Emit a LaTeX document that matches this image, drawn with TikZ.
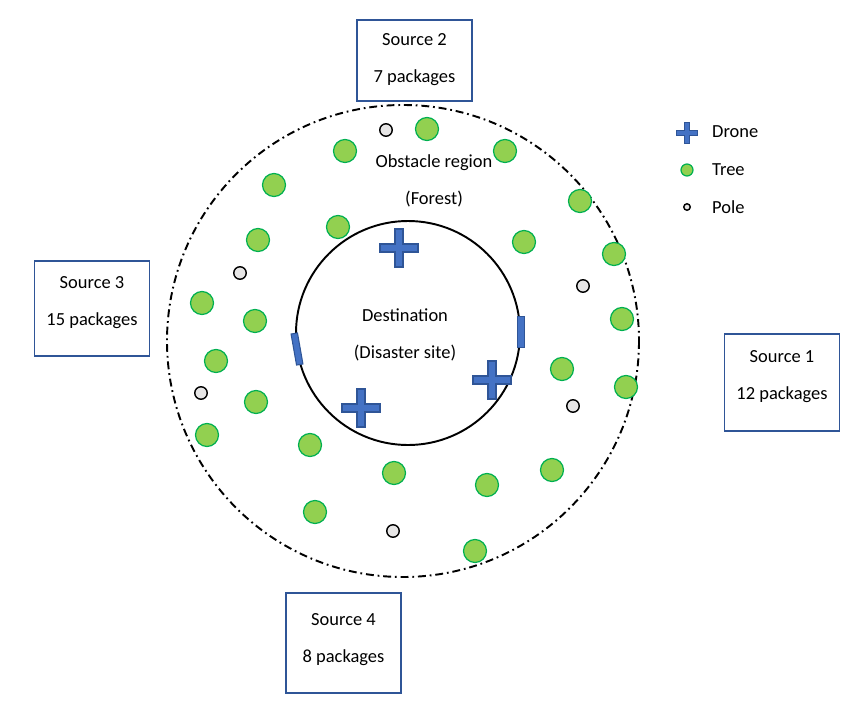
\documentclass[tikz,border=0pt]{standalone}
\usepackage{fontspec}
\setmainfont{Carlito}
\usetikzlibrary{positioning}

\definecolor{treefill}{HTML}{92D050}
\definecolor{treeedge}{HTML}{00B050}
\definecolor{polefill}{HTML}{E7E6E6}
\definecolor{dronefill}{HTML}{4472C4}
\definecolor{droneedge}{HTML}{2F5597}

\tikzset{
    pics/drone/.style={
        code={
            \draw[dronebody] (-4,-19) -- (4,-19) -- (4,-4) -- (19,-4) -- (19,4) -- (4,4)
                -- (4,19) -- (-4,19) -- (-4,4) -- (-19,4) -- (-19,-4) -- (-4,-4) -- cycle;
        }
    }
}

\begin{document}
\begin{tikzpicture}[
        x=0.02cm, y=-0.02cm,
        font=\fontsize{10.5}{21}\selectfont,
        source/.style={
            rectangle,
            draw=droneedge,
            line width=0.9pt,
            fill=white,
            align=center,
            minimum width=2.3cm,
            text depth=9pt
        },
        tree/.style={
            circle,
            draw=treeedge,
            fill=treefill,
            line width=0.7pt,
            inner sep=0pt,
            minimum size=0.46cm
        },
        pole/.style={
            circle,
            draw=black,
            fill=polefill,
            line width=0.8pt,
            inner sep=0pt,
            minimum size=0.25cm
        },
        dronebody/.style={
            draw=droneedge,
            fill=dronefill,
            line width=0.6pt
        },
        bar/.style={
            rectangle,
            draw=droneedge,
            fill=dronefill,
            line width=0.6pt,
            inner sep=0pt,
            minimum width=0.13cm,
            minimum height=0.63cm
        },
        legtext/.style={
            anchor=west,
            font=\fontsize{10.5}{12}\selectfont
        }
    ]
        \useasboundingbox (0,0) rectangle (854,706);

        % obstacle region and destination
        \draw[line width=1.1pt, dash pattern=on 4.5pt off 2.2pt on 1pt off 2.2pt] (403,341) circle [radius=236];
        \draw[line width=1.1pt] (408,333) circle [radius=112];

        % trees
        \foreach \x/\y [count=\i] in {427/129, 345/151, 505/151, 274/185, 580/201, 338/227,
                258/240, 524/242, 614/254, 202/303, 255/321, 622/319, 216/361, 562/369,
                256/402, 626/387, 207/435, 310/445, 552/470, 394/473, 487/485, 315/512, 475/551}
            \node[tree] (tree\i) at (\x,\y) {};

        % poles
        \foreach \x/\y [count=\i] in {386/130, 240/273, 583/286, 201/393, 573/406, 393/531}
            \node[pole] (pole\i) at (\x,\y) {};

        % drones
        \pic (drone1) at (399,248) {drone};
        \pic (drone2) at (492,380) {drone};
        \pic (drone3) at (361,408) {drone};
        \node[bar, rotate=10] (bar1) at (297,349) {};
        \node[bar] (bar2) at (521,332) {};

        % labels
        \node[align=center] (forest) at (434,181) {Obstacle region\\(Forest)};
        \node[align=center] (dest) at (405,335) {Destination\\(Disaster site)};

        % sources
        \node[source, minimum height=1.62cm, text depth=3pt] (src2) at (414.5,60.5) {Source 2\\7 packages};
        \node[source, minimum height=1.9cm] (src3) at (92,308.5) {Source 3\\15 packages};
        \node[source, minimum height=1.94cm] (src1) at (782,382.5) {Source 1\\12 packages};
        \node[source, minimum height=2.0cm, text depth=6pt] (src4) at (343.5,643) {Source 4\\8 packages};

        % legend
        \pic[scale=0.55] (legdrone) at (687,133) {drone};
        \node[tree, minimum size=0.24cm] (legtree) at (687,170) {};
        \node[pole, minimum size=0.13cm] (legpole) at (687,207) {};
        \node[legtext] (labdrone) at (706,132) {Drone};
        \node[legtext] (labtree) at (706,170) {Tree};
        \node[legtext] (labpole) at (706,207) {Pole};
    \end{tikzpicture}
\end{document}
